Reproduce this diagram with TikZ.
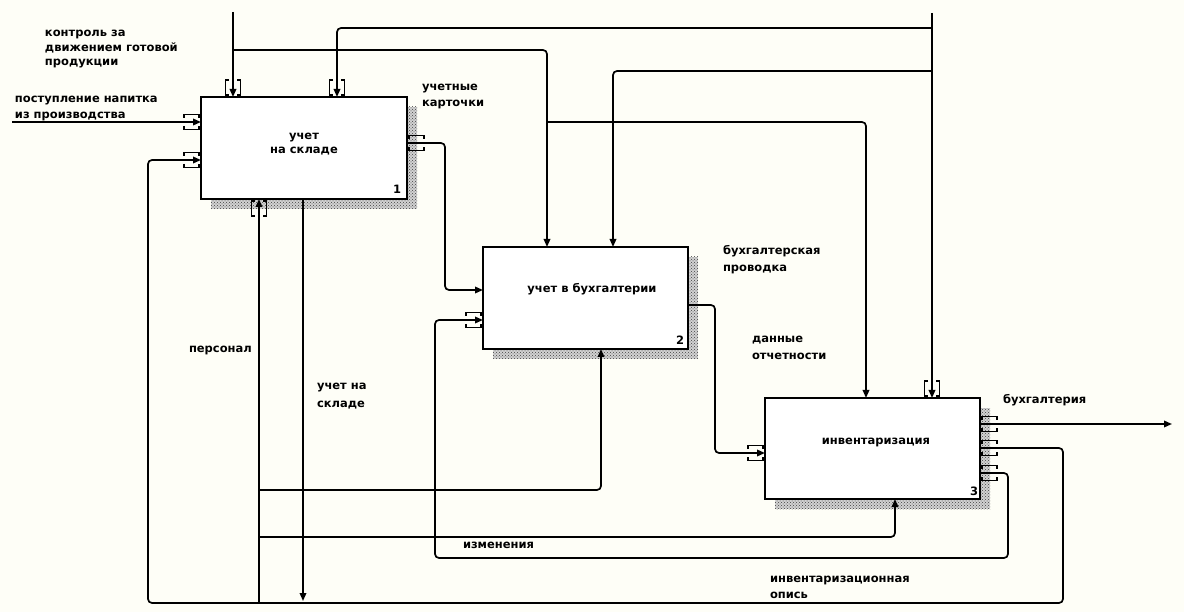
\documentclass[tikz,border=0pt]{standalone}
\usepackage{fontspec}
\setmainfont{DejaVu Sans}
\usetikzlibrary{arrows.meta,patterns,calc,backgrounds}
\definecolor{paper}{RGB}{254,254,247}
\begin{document}
\begin{tikzpicture}[x=1pt,y=-1pt,
  font=\fontsize{11.5}{14}\selectfont\bfseries,
  every node/.style={inner sep=0pt, outer sep=0pt},
  func/.style={draw, line width=2pt, fill=white},
  link/.style={line width=1.7pt, rounded corners=4pt},
  arr/.style={link, -{Triangle[length=8pt,width=6.5pt]}},
  lbl/.style={anchor=base west},
  tunnel/.pic={\draw[line width=1.5pt]
      (-4,-17) -- (-7.5,-17) -- (-7.5,-2) -- (-4,-2)
      (4,-17) -- (7.5,-17) -- (7.5,-2) -- (4,-2);},
]
\useasboundingbox (0,0) rectangle (1184,612);

% activity boxes
\node[func, minimum width=206pt, minimum height=102pt] (b1) at (304,148) {};
\node[func, minimum width=205pt, minimum height=102pt] (b2) at (585.5,298) {};
\node[func, minimum width=215pt, minimum height=101pt] (b3) at (872.5,448.5) {};

% paper and drop shadows
\begin{scope}[on background layer]
  \fill[paper] (0,0) rectangle (1184,612);
  \foreach \b in {b1,b2,b3}{
    \fill[gray!35] ($(\b.north west)+(10,10)$) rectangle ($(\b.south east)+(10,10)$);
    \fill[pattern=crosshatch dots, pattern color=black!75]
      ($(\b.north west)+(10,10)$) rectangle ($(\b.south east)+(10,10)$);
  }
\end{scope}

% box texts and numbers
\node[anchor=base] (t1a) at (304,140) {учет};
\node[anchor=base] (t1b) at (304,154) {на складе};
\node[anchor=base] (t2) at (592,293) {учет в бухгалтерии};
\node[anchor=base] (t3) at (876,444) {инвентаризация};
\node[anchor=base east] (n1) at (401,194) {1};
\node[anchor=base east] (n2) at (684,345) {2};
\node[anchor=base east] (n3) at (978,495) {3};

% free ends, junctions and bends
\coordinate (ctl1) at (233,12);
\coordinate (ctl2) at (932,13);
\coordinate (inp) at (12,122);
\coordinate (outr) at (1172,424);
\coordinate (mech) at (259,603);
\coordinate (out1) at (303,601);
\coordinate (j1) at (233,50);   \coordinate (k1) at (547,50);
\coordinate (j2) at (547,122);  \coordinate (k2) at (866,122);
\coordinate (j3) at (932,28);   \coordinate (k3) at (337,28);
\coordinate (j4) at (932,71);   \coordinate (k4) at (613,71);
\coordinate (c8a) at (445,143); \coordinate (c8b) at (445,290);
\coordinate (c9a) at (715,305); \coordinate (c9b) at (715,453);
\coordinate (c11a) at (1063,448); \coordinate (c11b) at (1063,603);
\coordinate (c11c) at (148,603);  \coordinate (c11d) at (148,160);
\coordinate (c12a) at (1008,473); \coordinate (c12b) at (1008,558);
\coordinate (c12c) at (435,558);  \coordinate (c12d) at (435,320);
\coordinate (j14) at (259,490); \coordinate (c14) at (601,490);
\coordinate (j15) at (259,537); \coordinate (c15) at (895,537);

% controls
\draw[arr] (ctl1) -- (ctl1 |- b1.north);
\draw[arr] (j1) -- (k1) -- (k1 |- b2.north);
\draw[arr] (j2) -- (k2) -- (k2 |- b3.north);
\draw[arr] (ctl2) -- (ctl2 |- b3.north);
\draw[arr] (j3) -- (k3) -- (k3 |- b1.north);
\draw[arr] (j4) -- (k4) -- (k4 |- b2.north);

% inputs and outputs
\draw[arr] (inp) -- (b1.west |- inp);
\draw[arr] (b1.east |- c8a) -- (c8a) -- (c8b) -- (b2.west |- c8b);
\draw[arr] (b2.east |- c9a) -- (c9a) -- (c9b) -- (b3.west |- c9b);
\draw[arr] (b3.east |- outr) -- (outr);
\draw[arr] (b3.east |- c11a) -- (c11a) -- (c11b) -- (c11c) -- (c11d) -- (b1.west |- c11d);
\draw[arr] (b3.east |- c12a) -- (c12a) -- (c12b) -- (c12c) -- (c12d) -- (b2.west |- c12d);
\draw[arr] (out1 |- b1.south) -- (out1);

% mechanisms
\draw[arr] (mech) -- (mech |- b1.south);
\draw[arr] (j14) -- (c14) -- (c14 |- b2.south);
\draw[arr] (j15) -- (c15) -- (c15 |- b3.south);

% tunnel brackets
\pic at (ctl1 |- b1.north) {tunnel};
\pic at (k3 |- b1.north) {tunnel};
\pic at (ctl2 |- b3.north) {tunnel};
\pic[rotate=90] at (b1.west |- inp) {tunnel};
\pic[rotate=90] at (b1.west |- c11d) {tunnel};
\pic[rotate=90] at (b2.west |- c12d) {tunnel};
\pic[rotate=90] at (b3.west |- c9b) {tunnel};
\pic[rotate=180] at (mech |- b1.south) {tunnel};
\pic[rotate=90] at ($(b1.east |- c8a)+(19,0)$) {tunnel};
\pic[rotate=90] at ($(b3.east |- outr)+(19,0)$) {tunnel};
\pic[rotate=90] at ($(b3.east |- c11a)+(19,0)$) {tunnel};
\pic[rotate=90] at ($(b3.east |- c12a)+(19,0)$) {tunnel};

% arrow labels
\node[lbl] (l1a) at (45,37) {контроль за};
\node[lbl] (l1b) at (45,51.5) {движением готовой};
\node[lbl] (l1c) at (45,66) {продукции};
\node[lbl] (l2a) at (15,103) {поступление напитка};
\node[lbl] (l2b) at (15,119) {из производства};
\node[lbl] (l3a) at (422,91) {учетные};
\node[lbl] (l3b) at (422,107) {карточки};
\node[lbl] (l4a) at (723,255) {бухгалтерская};
\node[lbl] (l4b) at (723,272) {проводка};
\node[lbl] (l5a) at (752,343) {данные};
\node[lbl] (l5b) at (752,360) {отчетности};
\node[lbl] (l6) at (1003,403) {бухгалтерия};
\node[lbl] (l7a) at (770,582) {инвентаризационная};
\node[lbl] (l7b) at (770,598) {опись};
\node[lbl] (l8) at (189,353) {персонал};
\node[lbl] (l9a) at (317,390) {учет на};
\node[lbl] (l9b) at (317,407) {складе};
\node[lbl] (l10) at (463,548) {изменения};
\end{tikzpicture}
\end{document}
